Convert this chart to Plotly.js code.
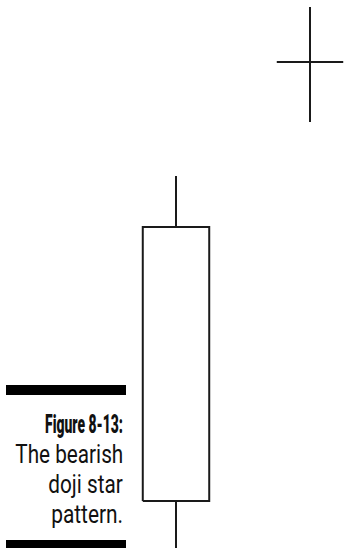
<!DOCTYPE html>
<html>
<head>
<meta charset="utf-8">
<script src="https://cdn.plot.ly/plotly-3.0.1.min.js"></script>
<style>
  html, body { margin: 0; padding: 0; background: #ffffff; }
  #chart { width: 345px; height: 548px; }
</style>
</head>
<body>
<div id="chart"></div>
<script>
// ---- data ----
const sessions = [1, 2];
const opens  = [4.7, 48.6];
const highs  = [37.2, 54.1];
const lows   = [0.0, 42.6];
const closes = [32.1, 48.6];

const captionLines = ["Figure 8-13:", "The bearish", "doji star", "pattern."];

// ---- styling constants ----
const W = 345, H = 548;
const BODY_HALF = 0.248;
const LINE_COLOR = '#1a1a1a';
const LINE_W = 2;

// build body outlines and wicks from OHLC
const bodyX = [], bodyY = [], wickX = [], wickY = [];
sessions.forEach((s, i) => {
  const o = opens[i], c = closes[i];
  const top = Math.max(o, c), bot = Math.min(o, c);
  bodyX.push(s - BODY_HALF, s + BODY_HALF, s + BODY_HALF, s - BODY_HALF, s - BODY_HALF, null);
  bodyY.push(o, o, c, c, o, null);
  wickX.push(s, s, null, s, s, null);
  wickY.push(highs[i], top, null, bot, lows[i], null);
});

const traces = [
  {
    type: 'scatter', mode: 'lines', x: bodyX, y: bodyY,
    fill: 'toself', fillcolor: '#ffffff',
    line: { color: LINE_COLOR, width: LINE_W },
    hoverinfo: 'skip', showlegend: false
  },
  {
    type: 'scatter', mode: 'lines', x: wickX, y: wickY,
    line: { color: LINE_COLOR, width: LINE_W },
    hoverinfo: 'skip', showlegend: false
  }
];

// pixel helpers for layout decorations
const px = v => v / W;
const py = v => 1 - v / H;

const captionBaselines = [432, 462, 492, 522];
const captionWidths = [78, 108, 75, 72];
const annotations = captionLines.map((t, i) => ({
  xref: 'paper', yref: 'paper',
  x: px(125), y: py(captionBaselines[i] - 8),
  xanchor: 'right', yanchor: 'middle', align: 'right',
  text: t,
  showarrow: false,
  font: { family: 'Roboto, "Liberation Sans", sans-serif', size: i === 0 ? 26 : 25, color: '#111111',
          weight: i === 0 ? 900 : 'normal' }
}));

const shapes = [
  { type: 'rect', xref: 'paper', yref: 'paper', x0: px(6), x1: px(126), y0: py(395), y1: py(385),
    fillcolor: '#000000', line: { width: 0 } },
  { type: 'rect', xref: 'paper', yref: 'paper', x0: px(6), x1: px(126), y0: py(548), y1: py(540),
    fillcolor: '#000000', line: { width: 0 } }
];

const layout = {
  width: W, height: H,
  margin: { l: 0, r: 0, t: 0, b: 0, pad: 0 },
  paper_bgcolor: '#ffffff', plot_bgcolor: '#ffffff',
  xaxis: { range: [1 - 176 / 134, 2 + 35 / 134], visible: false, fixedrange: true },
  yaxis: { range: [0, 54.8], visible: false, fixedrange: true },
  showlegend: false,
  annotations: annotations,
  shapes: shapes
};

Plotly.newPlot('chart', traces, layout, { staticPlot: true, displayModeBar: false }).then(() => {
  const texts = document.querySelectorAll('#chart .annotation-text');
  texts.forEach((el, i) => {
    const target = captionWidths[i];
    if (!target) return;
    const bb = el.getBBox();
    if (!bb.width) return;
    const s = target / bb.width;
    const right = bb.x + bb.width;
    const prev = el.getAttribute('transform') || '';
    el.setAttribute('transform',
      prev + ' translate(' + right + ',0) scale(' + s + ',1) translate(' + (-right) + ',0)');
  });
});
</script>
</body>
</html>
